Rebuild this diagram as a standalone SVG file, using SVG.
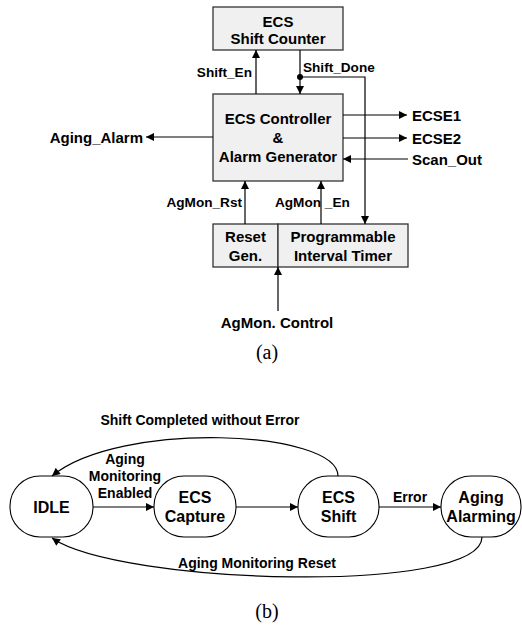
<svg xmlns="http://www.w3.org/2000/svg" width="522" height="629" viewBox="0 0 522 629">
<style>
.box{fill:#f0f0f0;stroke:#333;stroke-width:1.3}
.st{fill:#fff;stroke:#000;stroke-width:1.1}
.ln{fill:none;stroke:#000;stroke-width:1.2}
text{font-family:"Liberation Sans",Arial,sans-serif;font-weight:bold;fill:#000;dominant-baseline:central}
.b15{font-size:15px}
.b16{font-size:16px}
.b14{font-size:14px}
.b13{font-size:13.6px}
.m{text-anchor:middle}
.e{text-anchor:end}
.cap{font-family:"Liberation Serif","Times New Roman",serif;font-weight:normal;font-size:20px}
</style>
<defs>
<marker id="ah" viewBox="0 0 10 10" refX="10" refY="5" markerWidth="9" markerHeight="8" markerUnits="userSpaceOnUse" orient="auto">
<path d="M0,0 L10,5 L0,10 z" fill="#000"/>
</marker>
</defs>
<g id="shift-counter">
<rect class="box" x="213" y="7" width="130" height="43"/>
<text class="b15 m" x="278" y="21">ECS</text>
<text class="b15 m" x="278" y="38">Shift Counter</text>
</g>
<g id="controller">
<rect class="box" x="213" y="94" width="130" height="87"/>
<text class="b15 m" x="278" y="118">ECS Controller</text>
<text class="b15 m" x="278" y="137">&amp;</text>
<text class="b15 m" x="278" y="156">Alarm Generator</text>
</g>
<g id="reset-gen">
<rect class="box" x="213" y="224" width="65" height="43"/>
<text class="b15 m" x="245.5" y="236">Reset</text>
<text class="b15 m" x="245.5" y="255">Gen.</text>
</g>
<g id="timer">
<rect class="box" x="278" y="224" width="130" height="43"/>
<text class="b15 m" x="343" y="236">Programmable</text>
<text class="b15 m" x="343" y="255">Interval Timer</text>
</g>
<g id="labels-a">
<text class="b13 e" x="252" y="72">Shift_En</text>
<text class="b13" x="303" y="67">Shift_Done</text>
<text class="b15" x="412" y="115">ECSE1</text>
<text class="b15" x="412" y="138">ECSE2</text>
<text class="b15" x="412" y="159">Scan_Out</text>
<text class="b15 e" x="143" y="137">Aging_Alarm</text>
<text class="b13 e" x="242" y="202">AgMon_Rst</text>
<text class="b13" x="275" y="202">AgMon _En</text>
<text class="b15 m" x="277" y="322">AgMon. Control</text>
<text class="cap m" x="267" y="352">(a)</text>
</g>
<g id="connectors-a">
<line class="ln" x1="256" y1="94" x2="256" y2="50" marker-end="url(#ah)"/>
<line class="ln" x1="300" y1="50" x2="300" y2="94" marker-end="url(#ah)"/>
<circle cx="300" cy="77" r="3" fill="#000"/>
<polyline class="ln" points="300,77 365,77 365,224" marker-end="url(#ah)"/>
<line class="ln" x1="343" y1="115" x2="407" y2="115" marker-end="url(#ah)"/>
<line class="ln" x1="343" y1="138" x2="407" y2="138" marker-end="url(#ah)"/>
<line class="ln" x1="408" y1="159" x2="343" y2="159" marker-end="url(#ah)"/>
<line class="ln" x1="213" y1="137" x2="146" y2="137" marker-end="url(#ah)"/>
<line class="ln" x1="245" y1="224" x2="245" y2="181" marker-end="url(#ah)"/>
<line class="ln" x1="321" y1="224" x2="321" y2="181" marker-end="url(#ah)"/>
<line class="ln" x1="278" y1="311" x2="278" y2="267" marker-end="url(#ah)"/>
</g>
<g id="idle">
<rect class="st" x="10" y="476" width="83" height="61" rx="30" ry="30"/>
<text class="b16 m" x="51.5" y="507">IDLE</text>
</g>
<g id="ecs-capture">
<rect class="st" x="154" y="476" width="82" height="61" rx="30" ry="30"/>
<text class="b16 m" x="195" y="497">ECS</text>
<text class="b16 m" x="195" y="516">Capture</text>
</g>
<g id="ecs-shift">
<rect class="st" x="298" y="476" width="81" height="61" rx="30" ry="30"/>
<text class="b16 m" x="338.5" y="497">ECS</text>
<text class="b16 m" x="338.5" y="516">Shift</text>
</g>
<g id="aging-alarming">
<rect class="st" x="441" y="476" width="80" height="61" rx="30" ry="30"/>
<text class="b16 m" x="481" y="497">Aging</text>
<text class="b16 m" x="481" y="516">Alarming</text>
</g>
<g id="connectors-b">
<line class="ln" x1="93" y1="507" x2="154" y2="507" marker-end="url(#ah)"/>
<line class="ln" x1="236" y1="507" x2="298" y2="507" marker-end="url(#ah)"/>
<line class="ln" x1="379" y1="507" x2="441" y2="507" marker-end="url(#ah)"/>
<path class="ln" d="M338,476 C338,430 120,420 52,476" marker-end="url(#ah)"/>
<path class="ln" d="M482,537 C482,595 120,585 52,538" marker-end="url(#ah)"/>
</g>
<g id="labels-b">
<text class="b14 m" x="200" y="420">Shift Completed without Error</text>
<text class="b14 m" x="125" y="459">Aging</text>
<text class="b14 m" x="125" y="476">Monitoring</text>
<text class="b14 m" x="125" y="493">Enabled</text>
<text class="b14 m" x="410" y="497">Error</text>
<text class="b14 m" x="257" y="563">Aging Monitoring Reset</text>
<text class="cap m" x="267" y="611">(b)</text>
</g>
</svg>
